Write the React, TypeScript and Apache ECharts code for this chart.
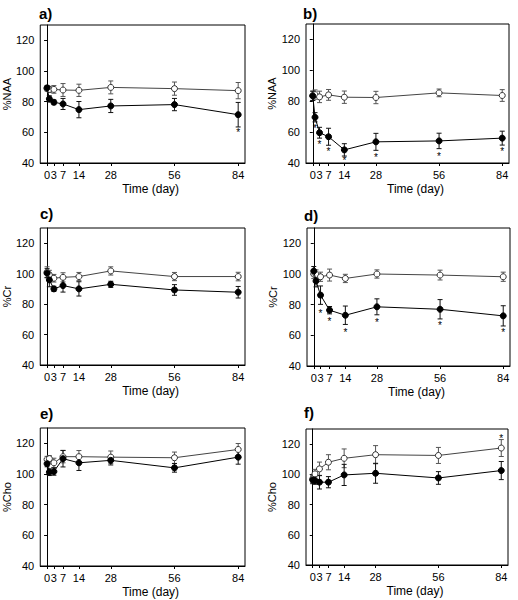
import React, { useEffect, useRef } from "react";
import * as echarts from "echarts";

const days = [0, 1, 3, 7, 14, 28, 56, 84];
const tickDays = [0, 3, 7, 14, 28, 56, 84];
const yTicks = [40, 60, 80, 100, 120];

// a) %NAA
const aOpen = [88.5, 88, 88, 87.6, 87.4, 89.3, 88.5, 87.2];
const aOpenErr = [1.5, 2, 2.5, 4.2, 4, 4.2, 4.3, 5.3];
const aFilled = [89, 81.8, 79.6, 78.5, 74.8, 77.2, 78.1, 71.5];
const aFilledErr = [1.5, 2, 1.5, 3.6, 5.3, 4.3, 4, 8];
const aStars = [[84, 62]];

// b) %NAA
const bOpen = [83.5, 84.3, 82.8, 84.1, 82.6, 82.4, 85.4, 83.7];
const bOpenErr = [3, 3, 3.7, 3.5, 4, 4, 2.5, 3.8];
const bFilled = [83.5, 69.6, 59.6, 57, 48.5, 53.7, 54.3, 56.1];
const bFilledErr = [3, 3, 3.5, 5.5, 4, 5.5, 5, 4.5];
const bStars = [[1, 64.5], [3, 54], [7, 49.5], [14, 43.8], [28, 45.5], [56, 46], [84, 49.5]];

// c) %Cr
const cOpen = [101, 99.2, 97, 97.6, 98.1, 101.8, 98.1, 98.1];
const cOpenErr = [3.5, 3, 2.5, 3, 2.7, 2.7, 2.7, 2.8];
const cFilled = [100.3, 95.9, 90, 92.2, 90, 93, 89.3, 87.8];
const cFilledErr = [3, 4.5, 1.7, 4.3, 4.7, 2, 3.5, 3.8];
const cStars: number[][] = [];

// d) %Cr
const dOpen = [100, 99.7, 98.2, 99.3, 97.1, 100, 99.3, 98.2];
const dOpenErr = [3, 3, 3, 3.9, 2.7, 2.7, 3.2, 3];
const dFilled = [101.9, 95.4, 86.2, 76.4, 73.1, 78.6, 77, 72.7];
const dFilledErr = [3, 3.8, 6, 2.4, 6, 5.2, 6.3, 6.6];
const dStars = [[3, 76.4], [7, 71], [14, 64], [28, 70.5], [56, 68.3], [84, 63.8]];

// e) %Cho
const eOpen = [109.5, 110, 107.3, 111.3, 111.3, 111, 110.6, 116];
const eOpenErr = [2, 2, 3, 4, 4, 4, 3.7, 3.9];
const eFilled = [106.7, 101.2, 101.6, 110, 107.3, 108.9, 104, 111];
const eFilledErr = [2, 2.2, 2.4, 5.4, 5, 3, 2.8, 4.6];
const eStars: number[][] = [];

// f) %Cho
const fOpen = [97, 100.3, 103.6, 108, 110.6, 113, 112.5, 117.4];
const fOpenErr = [2.5, 3, 4.5, 5, 6.2, 6, 5.3, 5.6];
const fFilled = [96.3, 95.9, 94.8, 94.8, 99.6, 100.7, 97.6, 102.5];
const fFilledErr = [2.5, 2.5, 4.5, 3.7, 7, 6.6, 4.2, 6];
const fStars = [[84, 125.5]];

const panelLabels = ["a)", "b)", "c)", "d)", "e)", "f)"];
const yNames = ["%NAA", "%NAA", "%Cr", "%Cr", "%Cho", "%Cho"];

const panels = [
  { open: aOpen, openErr: aOpenErr, filled: aFilled, filledErr: aFilledErr, stars: aStars },
  { open: bOpen, openErr: bOpenErr, filled: bFilled, filledErr: bFilledErr, stars: bStars },
  { open: cOpen, openErr: cOpenErr, filled: cFilled, filledErr: cFilledErr, stars: cStars },
  { open: dOpen, openErr: dOpenErr, filled: dFilled, filledErr: dFilledErr, stars: dStars },
  { open: eOpen, openErr: eOpenErr, filled: eFilled, filledErr: eFilledErr, stars: eStars },
  { open: fOpen, openErr: fOpenErr, filled: fFilled, filledErr: fFilledErr, stars: fStars },
];

const grids = [
  { left: 39, top: 25, width: 206, height: 138 },
  { left: 306, top: 24, width: 203, height: 139 },
  { left: 40, top: 228, width: 205, height: 137 },
  { left: 307, top: 228, width: 203, height: 138 },
  { left: 40, top: 428, width: 205, height: 138 },
  { left: 306, top: 429, width: 202, height: 136 },
];

const labelPos = [
  { left: 39, top: 6 },
  { left: 303, top: 6 },
  { left: 40, top: 206 },
  { left: 304, top: 208 },
  { left: 40, top: 406 },
  { left: 304, top: 405 },
];

const FONT = "Liberation Sans";

function errRender(color: string) {
  return (params: any, api: any) => {
    const x = api.value(0);
    const y = api.value(1);
    const e = api.value(2);
    const top = api.coord([x, y + e]);
    const bot = api.coord([x, y - e]);
    const w = 2.5;
    const style = { stroke: color, lineWidth: 1 };
    return {
      type: "group",
      children: [
        { type: "line", shape: { x1: top[0], y1: top[1], x2: bot[0], y2: bot[1] }, style },
        { type: "line", shape: { x1: top[0] - w, y1: top[1], x2: top[0] + w, y2: top[1] }, style },
        { type: "line", shape: { x1: bot[0] - w, y1: bot[1], x2: bot[0] + w, y2: bot[1] }, style },
      ],
    };
  };
}

function starRender(params: any, api: any) {
  const p = api.coord([api.value(0), api.value(1)]);
  return {
    type: "text",
    style: {
      text: "*",
      x: p[0],
      y: p[1] + 3,
      align: "center",
      verticalAlign: "middle",
      fontSize: 10,
      fontFamily: FONT,
      fill: "#000",
    },
  };
}

export default function App() {
  const ref = useRef<HTMLDivElement>(null);
  useEffect(() => {
    if (!ref.current) return;
    const chart = echarts.init(ref.current, null, { renderer: "svg" });
    const series: any[] = [];
    panels.forEach((p, i) => {
      series.push({
        type: "custom",
        xAxisIndex: i,
        yAxisIndex: i,
        renderItem: errRender("#555"),
        encode: { x: 0, y: 1 },
        data: days.map((d, k) => [d, p.open[k], p.openErr[k]]),
        z: 1,
      });
      series.push({
        type: "custom",
        xAxisIndex: i,
        yAxisIndex: i,
        renderItem: errRender("#111"),
        encode: { x: 0, y: 1 },
        data: days.map((d, k) => [d, p.filled[k], p.filledErr[k]]),
        z: 1,
      });
      series.push({
        type: "line",
        xAxisIndex: i,
        yAxisIndex: i,
        data: days.map((d, k) => [d, p.open[k]]),
        symbol: "circle",
        symbolSize: 6,
        showAllSymbol: true,
        lineStyle: { color: "#444", width: 1 },
        itemStyle: { color: "#fff", borderColor: "#333", borderWidth: 1 },
        z: 2,
      });
      series.push({
        type: "line",
        xAxisIndex: i,
        yAxisIndex: i,
        data: days.map((d, k) => [d, p.filled[k]]),
        symbol: "circle",
        symbolSize: 6,
        showAllSymbol: true,
        lineStyle: { color: "#000", width: 1 },
        itemStyle: { color: "#000", borderColor: "#000", borderWidth: 1 },
        z: 3,
      });
      if (p.stars.length) {
        series.push({
          type: "custom",
          xAxisIndex: i,
          yAxisIndex: i,
          renderItem: starRender,
          encode: { x: 0, y: 1 },
          data: p.stars,
          z: 4,
        });
      }
    });

    const option: any = {
      animation: false,
      backgroundColor: "#fff",
      textStyle: { fontFamily: FONT },
      grid: grids.map((g) => ({
        ...g,
        show: true,
        borderColor: "#000",
        borderWidth: 1,
        backgroundColor: "transparent",
      })),
      xAxis: grids.map((g, i) => ({
        type: "value",
        gridIndex: i,
        min: -3,
        max: 87,
        splitLine: { show: false },
        axisLine: { show: true, onZero: false, lineStyle: { color: "#000" } },
        axisTick: { show: true, customValues: tickDays, length: 3, lineStyle: { color: "#000" } },
        axisLabel: { customValues: tickDays, fontSize: 11, color: "#000", margin: 6, fontFamily: FONT },
        name: "Time (day)",
        nameLocation: "middle",
        nameGap: 20,
        nameTextStyle: { fontSize: 12, color: "#000", fontFamily: FONT, padding: [0, 0, 0, 16] },
      })),
      yAxis: grids.map((g, i) => ({
        type: "value",
        gridIndex: i,
        min: 40,
        max: 130,
        splitLine: { show: false },
        axisLine: { show: true, lineStyle: { color: "#000" } },
        axisTick: { show: true, customValues: yTicks, length: 3, lineStyle: { color: "#000" } },
        axisLabel: { customValues: yTicks, fontSize: 11, color: "#000", margin: 6, fontFamily: FONT },
        name: yNames[i],
        nameLocation: "middle",
        nameGap: 20,
        nameTextStyle: { fontSize: 11, color: "#000", fontFamily: FONT },
      })),
      graphic: panelLabels.map((t, i) => ({
        type: "text",
        left: labelPos[i].left,
        top: labelPos[i].top,
        style: { text: t, font: `bold 15px ${FONT}`, fill: "#000" },
      })),
      series,
    };
    chart.setOption(option);
    return () => chart.dispose();
  }, []);
  return (
    <div
      ref={ref}
      style={{ position: "absolute", left: 0, top: 0, width: 518, height: 600 }}
    />
  );
}
